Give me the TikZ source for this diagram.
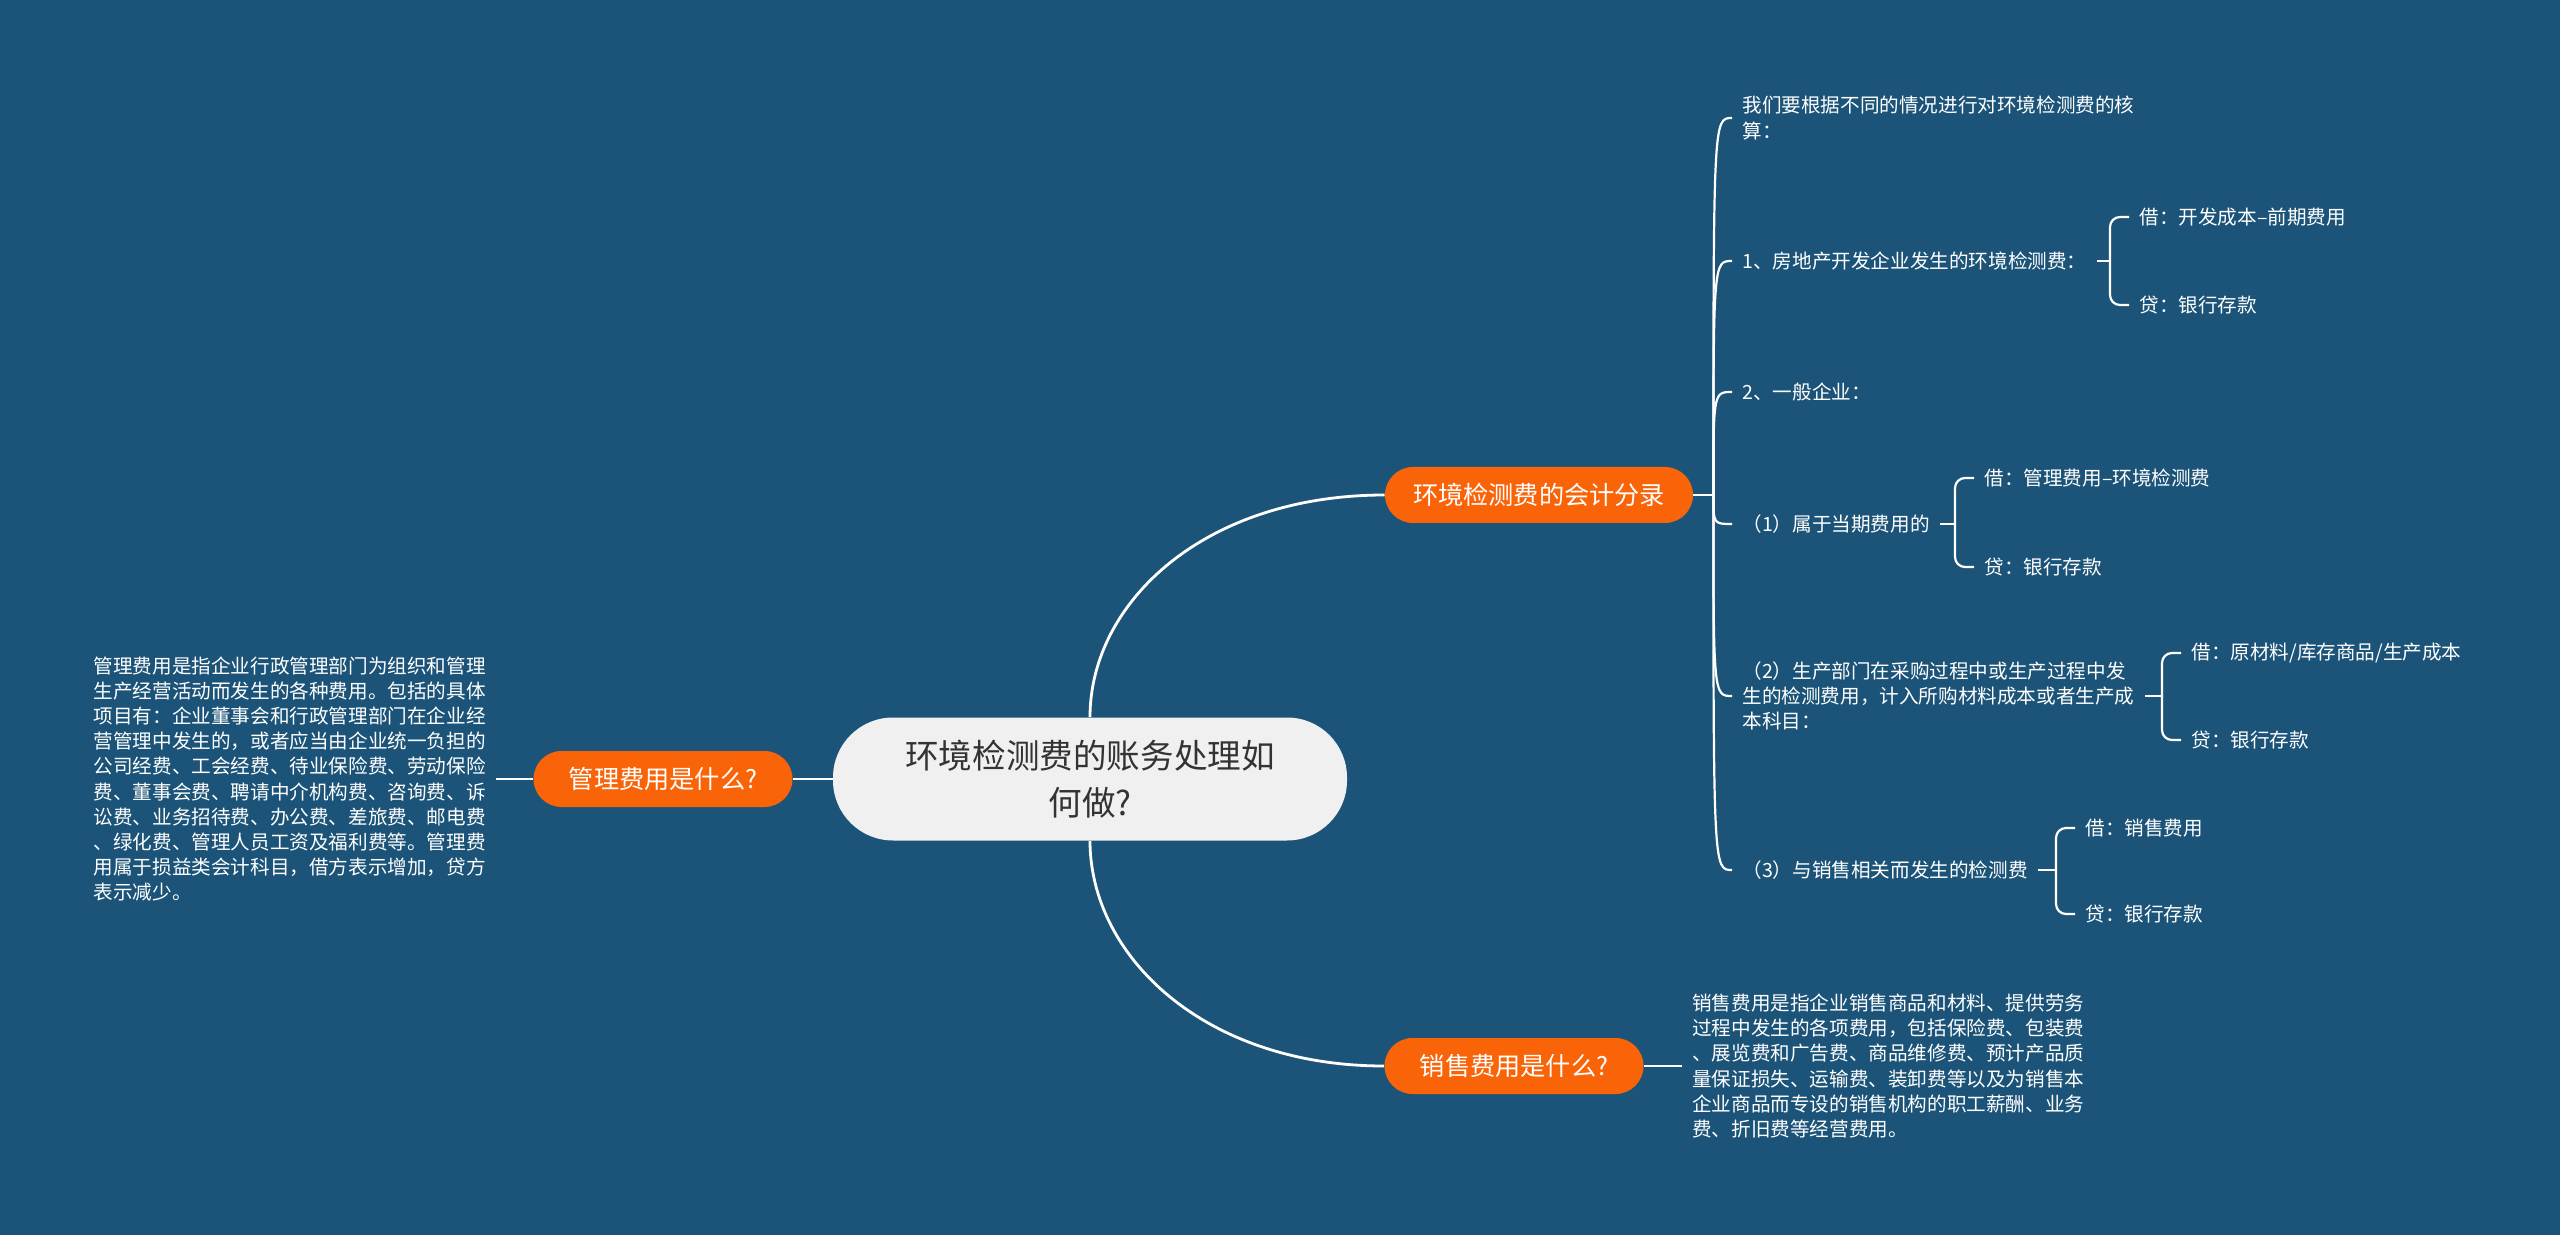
\documentclass[tikz,border=0pt]{standalone}
\usepackage{fontspec}
\setmainfont{Noto Sans CJK SC}
\usetikzlibrary{positioning}
\definecolor{MapBg}{RGB}{27,84,120}
\definecolor{MapOrange}{RGB}{250,100,8}
\definecolor{RootFill}{RGB}{240,240,240}
\definecolor{RootText}{RGB}{51,51,51}
\tikzstyle{RootNode}=[rectangle, rounded corners=30pt, fill=RootFill, text=RootText, minimum width=257pt, minimum height=61.5pt, align=center, font=\fontsize{16.8pt}{23.7pt}\selectfont]
\tikzstyle{TopicNode}=[rectangle, rounded corners=14pt, fill=MapOrange, text=white, minimum height=28pt, font=\fontsize{12.6pt}{15pt}\selectfont]
\tikzstyle{LeafText}=[inner xsep=5pt, inner ysep=0pt, text=white, align=left, font=\fontsize{9.8pt}{12.6pt}\selectfont]
\tikzstyle{MainLink}=[draw=white, line width=1.4pt]
\tikzstyle{SubLink}=[draw=white, line width=1.1pt]
\tikzstyle{BraceLink}=[draw=white, line width=1.1pt, rounded corners=5pt]

\begin{document}
\begin{tikzpicture}[x=0.5pt, y=-0.5pt]
			\fill[MapBg] (0,0) rectangle (2560,1235);
			\useasboundingbox (0,0) rectangle (2560,1235);

			%Nodos
			\node[RootNode]		(root)		at (1090,779)	{环境检测费的账务处理如\\何做?};
			\node[TopicNode, minimum width=154pt]	(fenlu)		at (1539,495)	{环境检测费的会计分录};
			\node[TopicNode, minimum width=129.5pt]	(xiaoshou)	at (1514,1066)	{销售费用是什么?};
			\node[TopicNode, minimum width=129.5pt]	(guanli)	at (663,779)	{管理费用是什么?};

			\node[LeafText]	(glText)	[left=18.5pt of guanli]	{管理费用是指企业行政管理部门为组织和管理\\生产经营活动而发生的各种费用。包括的具体\\项目有：企业董事会和行政管理部门在企业经\\营管理中发生的，或者应当由企业统一负担的\\公司经费、工会经费、待业保险费、劳动保险\\费、董事会费、聘请中介机构费、咨询费、诉\\讼费、业务招待费、办公费、差旅费、邮电费\\、绿化费、管理人员工资及福利费等。管理费\\用属于损益类会计科目，借方表示增加，贷方\\表示减少。};
			\node[LeafText]	(xsText)	[right=19pt of xiaoshou]	{销售费用是指企业销售商品和材料、提供劳务\\过程中发生的各项费用，包括保险费、包装费\\、展览费和广告费、商品维修费、预计产品质\\量保证损失、运输费、装卸费等以及为销售本\\企业商品而专设的销售机构的职工薪酬、业务\\费、折旧费等经营费用。};

			\node[LeafText, anchor=west]	(hesuan)		at (1732,118)	{我们要根据不同的情况进行对环境检测费的核\\算：};
			\node[LeafText, anchor=west]	(fangdichan)	at (1732,261)	{1、房地产开发企业发生的环境检测费：};
			\node[LeafText, anchor=west]	(yiban)		at (1732,392)	{2、一般企业：};
			\node[LeafText, anchor=west]	(dangqi)		at (1732,524)	{（1）属于当期费用的};
			\node[LeafText, anchor=west]	(shengchan)	at (1732,696)	{（2）生产部门在采购过程中或生产过程中发\\生的检测费用，计入所购材料成本或者生产成\\本科目：};
			\node[LeafText, anchor=west]	(xiaoshoujc)	at (1732,870)	{（3）与销售相关而发生的检测费};

			\node[LeafText, anchor=west]	(fdcJie)	at (2129,217)	{借：开发成本–前期费用};
			\node[LeafText, anchor=west]	(fdcDai)	at (2129,305)	{贷：银行存款};
			\node[LeafText, anchor=west]	(dqJie)	at (1974,478)	{借：管理费用–环境检测费};
			\node[LeafText, anchor=west]	(dqDai)	at (1974,567)	{贷：银行存款};
			\node[LeafText, anchor=west]	(scJie)	at (2181,653)	{借：原材料/库存商品/生产成本};
			\node[LeafText, anchor=west]	(scDai)	at (2181,740)	{贷：银行存款};
			\node[LeafText, anchor=west]	(xsJie)	at (2075,828)	{借：销售费用};
			\node[LeafText, anchor=west]	(xsDai)	at (2075,914)	{贷：银行存款};

			%Lineas
			\draw[MainLink] (root.north) .. controls +(0,-115) and +(-180,0) .. (fenlu.west);
			\draw[MainLink] (root.south) .. controls +(0,115) and +(-180,0) .. (xiaoshou.west);
			\draw[MainLink] (root.west) -- (guanli.east);
			\draw[MainLink] (guanli.west) -- (glText.east);
			\draw[MainLink] (xiaoshou.east) -- (xsText.west);

			\path (fenlu.east) ++(10pt,0) coordinate (fenluJ);
			\draw[SubLink] (fenlu.east) -- (fenluJ);
			\draw[SubLink] (fenluJ) .. controls (fenluJ |- hesuan.west) .. (hesuan.west);
			\draw[SubLink] (fenluJ) .. controls (fenluJ |- fangdichan.west) .. (fangdichan.west);
			\draw[SubLink] (fenluJ) .. controls (fenluJ |- yiban.west) .. (yiban.west);
			\draw[SubLink] (fenluJ) .. controls (fenluJ |- dangqi.west) .. (dangqi.west);
			\draw[SubLink] (fenluJ) .. controls (fenluJ |- shengchan.west) .. (shengchan.west);
			\draw[SubLink] (fenluJ) .. controls (fenluJ |- xiaoshoujc.west) .. (xiaoshoujc.west);

			\path (fdcJie.west |- fangdichan.east) ++(-9.5pt,0) coordinate (fdcB);
			\draw[SubLink] (fangdichan.east) -- (fdcB);
			\draw[BraceLink] (fdcB) |- (fdcJie.west);
			\draw[BraceLink] (fdcB) |- (fdcDai.west);

			\path (dqJie.west |- dangqi.east) ++(-9.5pt,0) coordinate (dqB);
			\draw[SubLink] (dangqi.east) -- (dqB);
			\draw[BraceLink] (dqB) |- (dqJie.west);
			\draw[BraceLink] (dqB) |- (dqDai.west);

			\path (scJie.west |- shengchan.east) ++(-9.5pt,0) coordinate (scB);
			\draw[SubLink] (shengchan.east) -- (scB);
			\draw[BraceLink] (scB) |- (scJie.west);
			\draw[BraceLink] (scB) |- (scDai.west);

			\path (xsJie.west |- xiaoshoujc.east) ++(-9.5pt,0) coordinate (xsB);
			\draw[SubLink] (xiaoshoujc.east) -- (xsB);
			\draw[BraceLink] (xsB) |- (xsJie.west);
			\draw[BraceLink] (xsB) |- (xsDai.west);

		\end{tikzpicture}
\end{document}
